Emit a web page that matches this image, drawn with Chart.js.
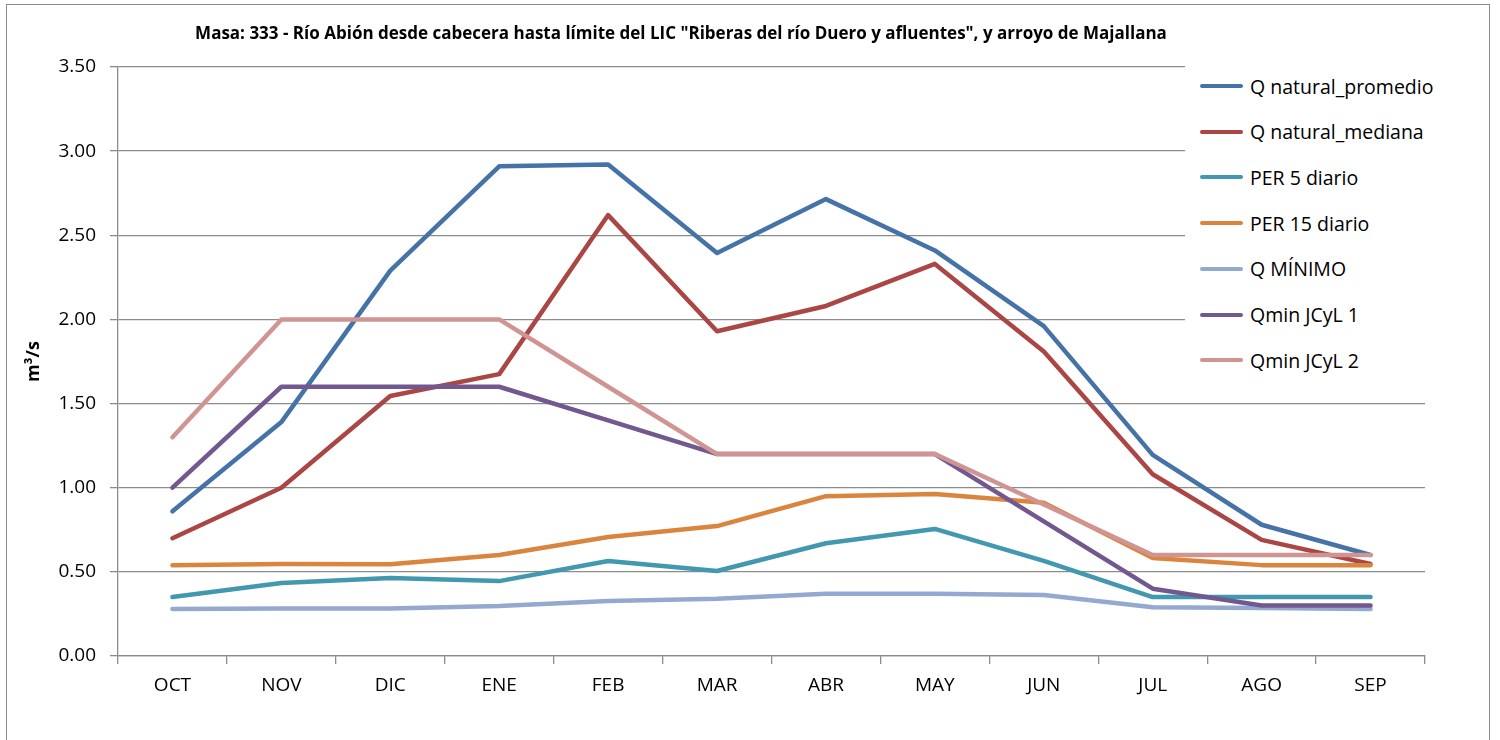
<!DOCTYPE html>
<html>
<head>
<meta charset="utf-8">
<script src="https://cdn.jsdelivr.net/npm/chart.js@4/dist/chart.umd.min.js"></script>
<style>
    body { margin: 0; background: #fff; font-family: "Open Sans", sans-serif; }
    #wrap { position: relative; width: 1500px; height: 740px; overflow: hidden; }
    #frame { position: absolute; left: 6px; top: 4px; width: 1482px; height: 800px; border: 1.5px solid #8a8a8a; }
    #chart { position: absolute; left: 0; top: 0; }
    #title { position: absolute; left: 181px; width: 1000px; top: 22px; text-align: center; font-size: 17px; font-weight: bold; line-height: 22px; color: #000; white-space: nowrap; }
    #legend { position: absolute; left: 1185px; top: 60px; width: 262px; height: 325px; background: #fff; }
    .item { position: absolute; left: 15px; height: 26px; display: flex; align-items: center; font-size: 19.5px; color: #000; white-space: nowrap; }
    .item span.sw { display: inline-block; width: 43px; height: 4px; border-radius: 2px; margin-right: 7px; }
</style>
</head>
<body>
<div id="wrap">
    <div id="frame"></div>
    <canvas id="chart" width="1500" height="740"></canvas>
    <div id="title"></div>
    <div id="legend"></div>
</div>
<script>
const chartTitle = 'Masa: 333 - Río Abión desde cabecera hasta límite del LIC "Riberas del río Duero y afluentes", y arroyo de Majallana';
const months = ["OCT", "NOV", "DIC", "ENE", "FEB", "MAR", "ABR", "MAY", "JUN", "JUL", "AGO", "SEP"];

const seriesNames = [
    "Q natural_promedio",
    "Q natural_mediana",
    "PER 5 diario",
    "PER 15 diario",
    "Q MÍNIMO",
    "Qmin JCyL 1",
    "Qmin JCyL 2",
];
const seriesColors = ["#4572A7", "#AA4643", "#4198AF", "#DB843D", "#93A9CF", "#71588F", "#D09492"];

const qPromedio = [0.86, 1.39, 2.29, 2.91, 2.92, 2.395, 2.715, 2.41, 1.96, 1.195, 0.78, 0.60];
const qMediana = [0.70, 1.00, 1.545, 1.675, 2.62, 1.93, 2.08, 2.33, 1.81, 1.08, 0.69, 0.547];
const per5 = [0.35, 0.434, 0.463, 0.445, 0.565, 0.505, 0.67, 0.755, 0.565, 0.35, 0.35, 0.35];
const per15 = [0.54, 0.547, 0.545, 0.60, 0.707, 0.772, 0.95, 0.962, 0.91, 0.582, 0.54, 0.54];
const qMinimo = [0.28, 0.283, 0.283, 0.297, 0.327, 0.34, 0.37, 0.37, 0.362, 0.29, 0.285, 0.28];
const qminJcyl1 = [1.0, 1.6, 1.6, 1.6, 1.4, 1.2, 1.2, 1.2, 0.8, 0.4, 0.3, 0.3];
const qminJcyl2 = [1.3, 2.0, 2.0, 2.0, 1.6, 1.2, 1.2, 1.2, 0.9, 0.6, 0.6, 0.6];

const seriesData = [qPromedio, qMediana, per5, per15, qMinimo, qminJcyl1, qminJcyl2];

const FONT = "'Open Sans', sans-serif";
const GRID = "#8c8c8c";

document.getElementById("title").textContent = chartTitle;

// legend as html on a white box (it covers the grid like in excel)
const legend = document.getElementById("legend");
seriesNames.forEach((name, i) => {
    const div = document.createElement("div");
    div.className = "item";
    div.style.top = (13 + i * 45.7) + "px";
    div.innerHTML = `<span class="sw" style="background:${seriesColors[i]}"></span>${name}`;
    legend.appendChild(div);
});

const datasets = seriesNames.map((name, i) => ({
    label: name,
    data: seriesData[i],
    borderColor: seriesColors[i],
    backgroundColor: seriesColors[i],
    borderWidth: 4.5,
    borderCapStyle: "round",
    borderJoinStyle: "round",
    pointRadius: 0,
    tension: 0,
    order: seriesNames.length - i, // later series drawn on top
}));

new Chart(document.getElementById("chart"), {
    type: "line",
    data: { labels: months, datasets },
    options: {
        responsive: false,
        animation: false,
        events: [],
        layout: { padding: { left: 0, right: 75, top: 67, bottom: 0 } },
        plugins: {
            legend: { display: false },
            tooltip: { enabled: false },
            title: { display: false },
        },
        scales: {
            x: {
                offset: true,
                grid: { offset: true, drawOnChartArea: false, drawTicks: true, tickLength: 8, color: GRID, lineWidth: 1.3 },
                border: { color: GRID, width: 1.3 },
                ticks: { color: "#000", padding: 10, font: { family: FONT, size: 19 }, maxRotation: 0 },
                afterFit: (s) => { s.height = 84; },
            },
            y: {
                min: 0,
                max: 3.5,
                ticks: {
                    stepSize: 0.5,
                    color: "#000",
                    padding: 14,
                    font: { family: FONT, size: 19 },
                    callback: (v) => v.toFixed(2),
                },
                grid: { color: GRID, lineWidth: 1.3, tickLength: 8 },
                border: { color: GRID, width: 1.3 },
                title: {
                    display: true,
                    text: "m³/s",
                    color: "#000",
                    font: { family: FONT, size: 18, weight: "bold" },
                    padding: { top: 23, bottom: 0 },
                },
                afterFit: (s) => { s.width = 118; },
            },
        },
    },
});
</script>
</body>
</html>
